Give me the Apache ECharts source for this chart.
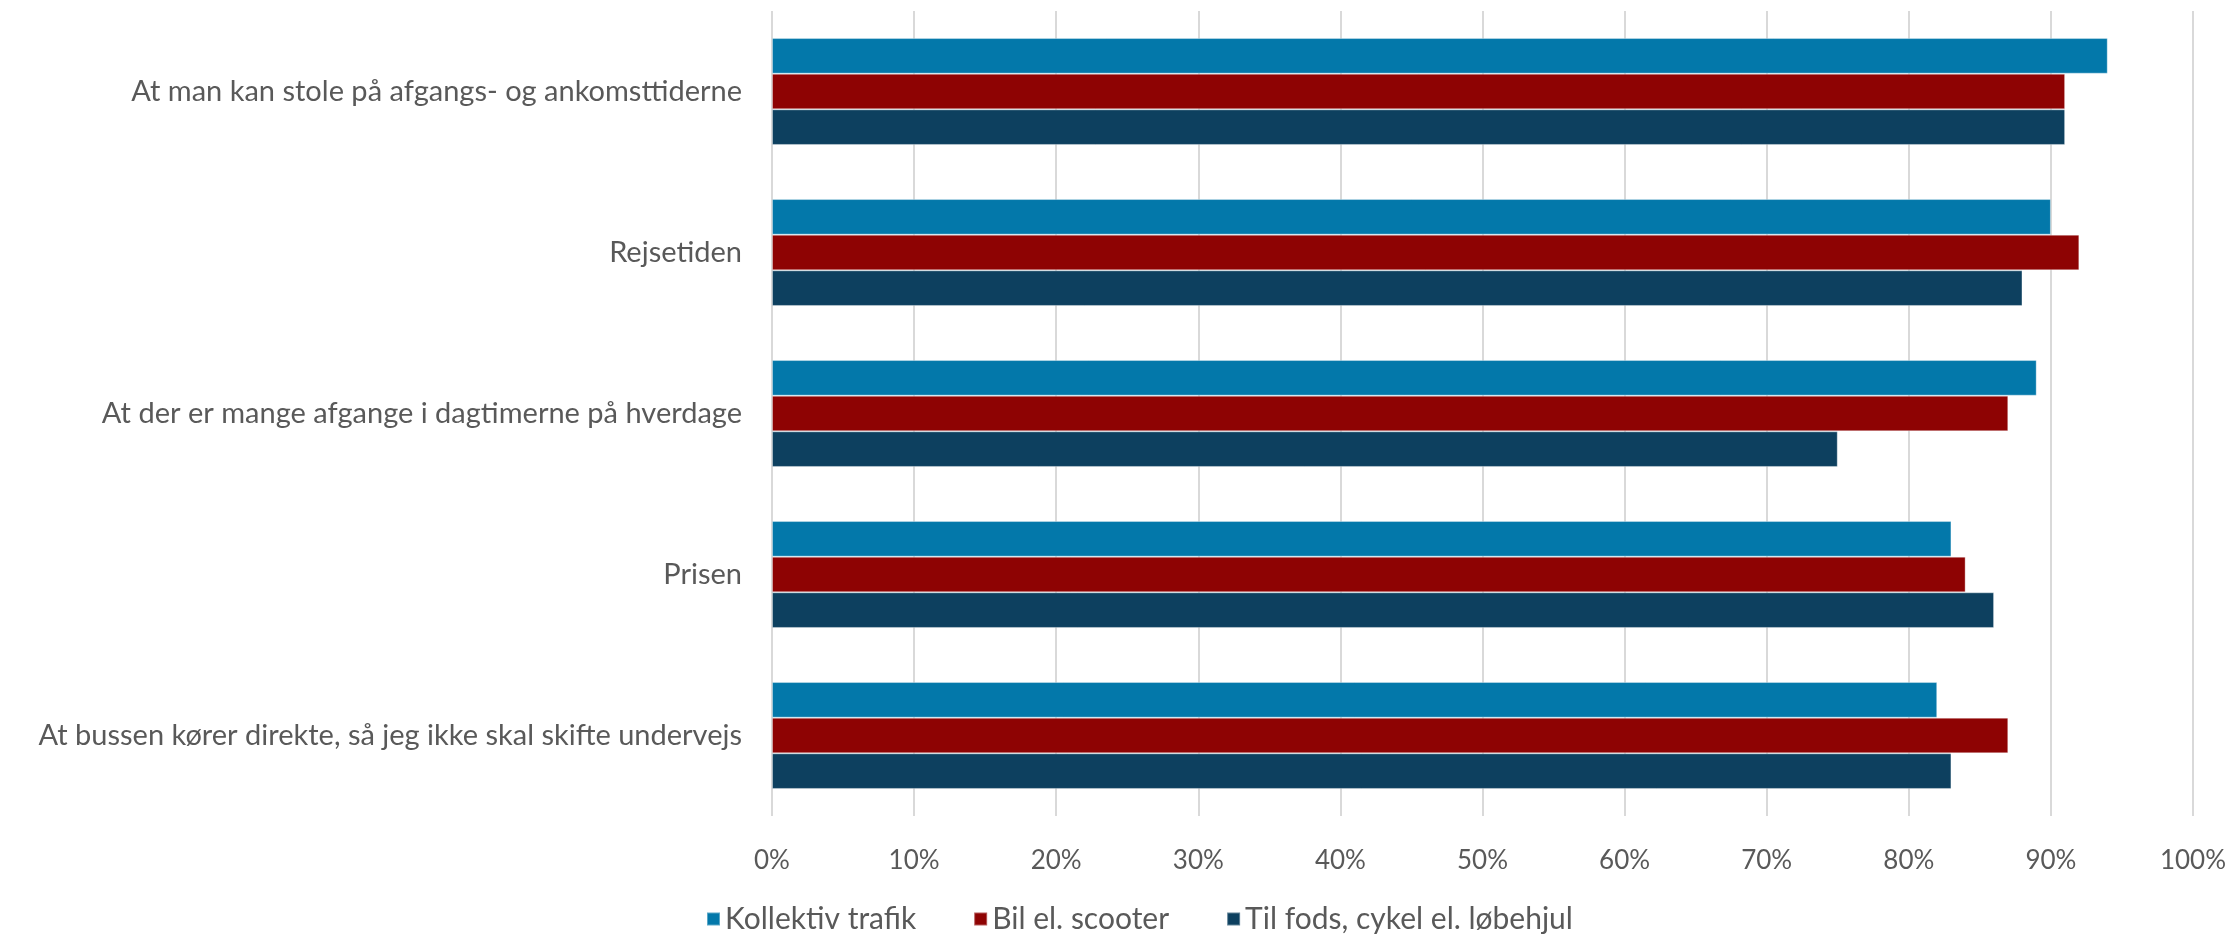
<!DOCTYPE html>
<html>
<head>
<meta charset="utf-8">
<script src="https://cdn.jsdelivr.net/npm/echarts@6/dist/echarts.min.js"></script>
<style>
html,body{margin:0;padding:0;background:#fff;}
#chart{width:2237px;height:935px;}
</style>
</head>
<body>
<div id="chart"></div>
<script>
const categories = [
  "At man kan stole på afgangs- og ankomsttiderne",
  "Rejsetiden",
  "At der er mange afgange i dagtimerne på hverdage",
  "Prisen",
  "At bussen kører direkte, så jeg ikke skal skifte undervejs"
];
const seriesNames = ["Kollektiv trafik", "Bil el. scooter", "Til fods, cykel el. løbehjul"];
const kollektiv = [94, 90, 89, 83, 82];
const bil = [91, 92, 87, 84, 87];
const tilFods = [91, 88, 75, 86, 83];
const colors = ["#0378AA", "#8E0303", "#0D405F"];

const font = "Lato, 'Open Sans', sans-serif";
const chart = echarts.init(document.getElementById('chart'));
chart.setOption({
  animation: false,
  color: colors,
  grid: {left: 772, right: 44, top: 11, bottom: 119, containLabel: false},
  legend: {
    top: 899, left: 701,
    itemWidth: 13, itemHeight: 13, itemGap: 57,
    icon: 'rect',
    textStyle: {fontFamily: font, fontSize: 30, color: '#595959', padding: [0,0,0,0]},
    data: seriesNames
  },
  xAxis: {
    type: 'value', min: 0, max: 100, interval: 10,
    axisLabel: {formatter: '{value}%', fontFamily: font, fontSize: 26, color: '#595959', margin: 32},
    axisLine: {show: false}, axisTick: {show: false},
    splitLine: {lineStyle: {color: '#d9d9d9', width: 2}}
  },
  yAxis: {
    type: 'category', data: categories, inverse: true,
    axisLine: {show: false}, axisTick: {show: false},
    axisLabel: {fontFamily: font, fontSize: 29, color: '#595959', margin: 30}
  },
  series: [
    {name: seriesNames[0], type: 'bar', data: kollektiv, barGap: '0%', barCategoryGap: '33.6%',
     itemStyle: {borderColor: 'rgba(255,255,255,0.35)', borderWidth: 1}},
    {name: seriesNames[1], type: 'bar', data: bil, barGap: '0%', barCategoryGap: '33.6%',
     itemStyle: {borderColor: 'rgba(255,255,255,0.35)', borderWidth: 1}},
    {name: seriesNames[2], type: 'bar', data: tilFods, barGap: '0%', barCategoryGap: '33.6%',
     itemStyle: {borderColor: 'rgba(255,255,255,0.35)', borderWidth: 1}}
  ]
});
</script>
</body>
</html>
